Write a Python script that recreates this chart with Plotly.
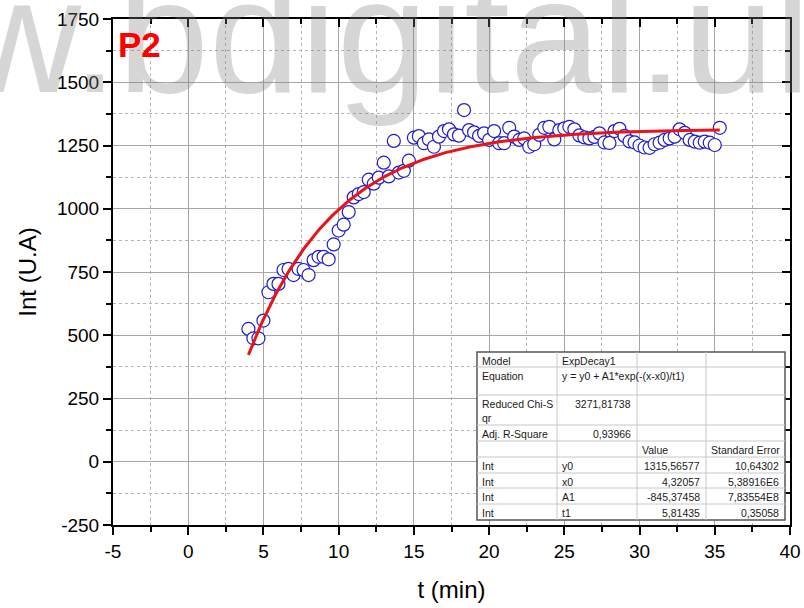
import numpy as np
import plotly.graph_objects as go

# ---------------- data ----------------
t_min = [4.0 + i / 3 for i in range(95)]
intensity = [
    525, 488, 488, 558, 670, 703, 703, 758, 762, 738,
    762, 758, 738, 797, 810, 810, 800, 859, 914, 937,
    987, 1045, 1058, 1066, 1115, 1099, 1123, 1182, 1128, 1268,
    1143, 1150, 1190, 1281, 1287, 1259, 1274, 1245, 1285, 1307,
    1314, 1294, 1289, 1390, 1311, 1302, 1288, 1298, 1272, 1307,
    1259, 1259, 1320, 1285, 1272, 1278, 1245, 1255, 1292, 1320,
    1324, 1274, 1311, 1318, 1324, 1314, 1290, 1282, 1278, 1284,
    1298, 1262, 1260, 1307, 1316, 1288, 1266, 1262, 1250, 1242,
    1241, 1255, 1261, 1272, 1278, 1285, 1314, 1300, 1272, 1265,
    1261, 1265, 1261, 1252, 1320,
]

# fit parameters (ExpDecay1) as reported in the table
fit_y0 = 1315.56577
fit_x0 = 4.32057
fit_A1 = -845.37458
fit_t1 = 5.81435

table_rows = [
    ["Model", "ExpDecay1", "", ""],
    ["Equation", "y = y0 + A1*exp(-(x-x0)/t1)", "", ""],
    ["Reduced Chi-S<br>qr", "3271,81738", "", ""],
    ["Adj. R-Square", "0,93966", "", ""],
    ["", "", "Value", "Standard Error"],
    ["Int", "y0", "1315,56577", "10,64302"],
    ["Int", "x0", "4,32057", "5,38916E6"],
    ["Int", "A1", "-845,37458", "7,83554E8"],
    ["Int", "t1", "5,81435", "0,35058"],
]

x_ticks = [-5, 0, 5, 10, 15, 20, 25, 30, 35, 40]
x_tick_text = ["-5", "0", "5", "10", "15", "20", "25", "30", "35", "40"]
y_ticks = [-250, 0, 250, 500, 750, 1000, 1250, 1500, 1750]
y_tick_text = ["-250", "0", "250", "500", "750", "1000", "1250", "1500", "1750"]

# ---------------- layout geometry ----------------
W, H = 804, 608
ML, MR, MT, MB = 113, 14, 19, 83
PW, PH = W - ML - MR, H - MT - MB


def px(x):
    return (x - ML) / PW


def py(y):
    return (H - MB - y) / PH


FONT = "Liberation Sans, Arial, sans-serif"

fit_t = np.linspace(min(t_min), max(t_min), 300)
fit_y = fit_y0 + fit_A1 * np.exp(-(fit_t - fit_x0) / fit_t1)

fig = go.Figure()
fig.add_trace(go.Scatter(
    x=t_min, y=intensity, mode="markers",
    marker=dict(symbol="circle", size=13, color="#fffff2",
                line=dict(color="#1c1cd8", width=1.2)),
    showlegend=False, hoverinfo="x+y",
))
fig.add_trace(go.Scatter(
    x=fit_t, y=fit_y, mode="lines",
    line=dict(color="#e8141a", width=3),
    showlegend=False, hoverinfo="skip",
))
# dummy trace for mirrored inside-tick axes
fig.add_trace(go.Scatter(x=[None], y=[None], xaxis="x2", yaxis="y2",
                         showlegend=False, hoverinfo="skip"))

axis_common = dict(
    showline=True, linecolor="black", linewidth=2, automargin=False,
    zeroline=False, tickfont=dict(family=FONT, size=19, color="black"),
    tickwidth=2, ticklen=8, tickcolor="black",
    gridcolor="#a6a6a6", gridwidth=1,
)

fig.update_layout(
    width=W, height=H,
    margin=dict(l=ML, r=MR, t=MT, b=MB, autoexpand=False),
    paper_bgcolor="white", plot_bgcolor="white",
    xaxis=dict(
        range=[-5, 40], tickvals=x_ticks, ticktext=x_tick_text, ticks="outside",
        title=dict(text="t (min)", font=dict(family=FONT, size=24, color="black"), standoff=20),
        minor=dict(dtick=2.5, tick0=0, ticks="outside", ticklen=5, tickwidth=1.5,
                   tickcolor="black", showgrid=True, gridcolor="#b4b4b4",
                   griddash="dot", gridwidth=1),
        **axis_common,
    ),
    yaxis=dict(
        range=[-250, 1750], tickvals=y_ticks, ticktext=y_tick_text, ticks="outside",
        title=dict(text="Int (U.A)", font=dict(family=FONT, size=24, color="black"), standoff=14),
        minor=dict(dtick=125, tick0=0, ticks="outside", ticklen=5, tickwidth=1.5,
                   tickcolor="black", showgrid=True, gridcolor="#b4b4b4",
                   griddash="dot", gridwidth=1),
        **axis_common,
    ),
    xaxis2=dict(
        range=[-5, 40], overlaying="x", side="top", anchor="y", automargin=False,
        tickvals=x_ticks, ticks="inside", ticklen=8, tickwidth=2, tickcolor="black",
        showticklabels=False, showgrid=False, zeroline=False,
        showline=True, linecolor="black", linewidth=2,
        minor=dict(dtick=2.5, tick0=0, ticks="inside", ticklen=5, tickwidth=1.5,
                   tickcolor="black", showgrid=False),
    ),
    yaxis2=dict(
        range=[-250, 1750], overlaying="y", side="right", anchor="x", automargin=False,
        tickvals=y_ticks, ticks="inside", ticklen=8, tickwidth=2, tickcolor="black",
        showticklabels=False, showgrid=False, zeroline=False,
        showline=True, linecolor="black", linewidth=2,
        minor=dict(dtick=125, tick0=0, ticks="inside", ticklen=5, tickwidth=1.5,
                   tickcolor="black", showgrid=False),
    ),
)

annotations = []
shapes = []

# watermark
annotations.append(dict(
    text="www.bdigital.ula.ve", xref="paper", yref="paper",
    x=px(-277), y=py(-58), xanchor="left", yanchor="top",
    showarrow=False, font=dict(family=FONT, size=164, color="rgba(128,128,128,0.32)"),
))

# P2 label
annotations.append(dict(
    text="<b>P2</b>", xref="paper", yref="paper", x=px(116), y=py(44),
    xanchor="left", yanchor="middle", showarrow=False,
    font=dict(family=FONT, size=35, color="#ff0000"),
))

# ---------------- table ----------------
row_edges = [352, 367, 395, 425, 441, 457, 473, 488, 504, 520]
col_edges = [477, 557, 637, 706, 785]

shapes.append(dict(type="rect", xref="paper", yref="paper",
                   x0=px(col_edges[0]), x1=px(col_edges[-1]),
                   y0=py(row_edges[-1]), y1=py(row_edges[0]),
                   fillcolor="white", line=dict(color="#555555", width=1.5), layer="above"))
for r in row_edges[1:-1]:
    shapes.append(dict(type="line", xref="paper", yref="paper",
                       x0=px(col_edges[0]), x1=px(col_edges[-1]), y0=py(r), y1=py(r),
                       line=dict(color="#c8c8c8", width=1), layer="above"))
for c in col_edges[1:-1]:
    shapes.append(dict(type="line", xref="paper", yref="paper",
                       x0=px(c), x1=px(c), y0=py(row_edges[-1]), y1=py(row_edges[0]),
                       line=dict(color="#c8c8c8", width=1), layer="above"))

tfont = dict(family=FONT, size=10.5, color="#1a1a1a")
for ri, row in enumerate(table_rows):
    top = row_edges[ri]
    for ci, txt in enumerate(row):
        if not txt:
            continue
        numeric = txt[0].isdigit() or txt[0] == "-"
        if numeric and ci >= 1:
            xa = "right"
            xp = col_edges[ci + 1] - 4
        else:
            xa = "left"
            xp = col_edges[ci] + 3
        annotations.append(dict(
            text=txt, xref="paper", yref="paper", x=px(xp), y=py(top + 1),
            xanchor=xa, yanchor="top", showarrow=False, font=tfont, align="left",
        ))

fig.update_layout(annotations=annotations, shapes=shapes)

fig.write_html("out.html")
